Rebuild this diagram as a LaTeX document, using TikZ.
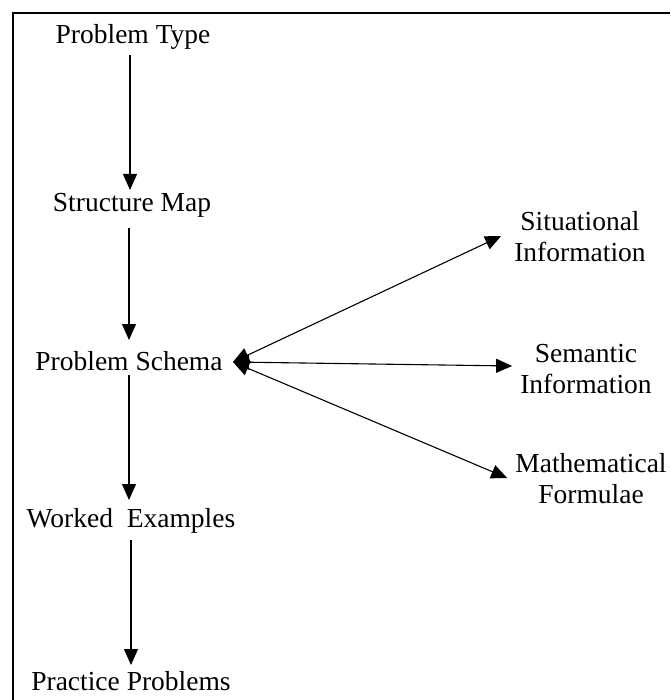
\documentclass[tikz,border=0pt]{standalone}
\usepackage{fontspec}
\setmainfont{Liberation Serif}
\usetikzlibrary{arrows.meta}
\begin{document}
\begin{tikzpicture}[x=1pt,y=-1pt,
  lbl/.style={inner sep=0pt,font=\fontsize{27.5}{31}\selectfont,align=center},
  arr/.style={line width=1.1pt,-{Triangle[width=14pt,length=16pt]}},
  darr/.style={line width=1.1pt,{Triangle[width=15pt,length=16pt]}-{Triangle[width=14pt,length=16pt]}}]
\useasboundingbox (0,0) rectangle (670,700);
\fill[white] (0,0) rectangle (670,700);
\draw[line width=2.2pt] (13,700) -- (13,13) -- (670,13);
\node[lbl,anchor=base] (pt) at (133,44) {Problem Type};
\node[lbl,anchor=base] (sm) at (132,212) {Structure Map};
\node[lbl,anchor=base] (ps) at (129,370) {Problem Schema};
\node[lbl,anchor=base] (we) at (131,527) {Worked\ \ Examples};
\node[lbl,anchor=base] (pp) at (131,690) {Practice Problems};
\node[lbl] (si) at (580,237) {Situational\\Information};
\node[lbl] (se) at (586,369) {Semantic\\Information};
\node[lbl] (mf) at (591,479) {Mathematical\\Formulae};
\coordinate (hub) at (233,362);
\coordinate (x1) at (130,0);
\coordinate (x2) at (129,0);
\coordinate (x3) at (129,0);
\coordinate (x4) at (131,0);
\draw[arr] ([yshift=-11pt]pt.base -| x1) -- ([yshift=22pt]sm.base -| x1);
\draw[arr] ([yshift=-16pt]sm.base -| x2) -- ([yshift=30pt]ps.base -| x2);
\draw[arr] ([yshift=-5pt]ps.base -| x3) -- ([yshift=27pt]we.base -| x3);
\draw[arr] ([yshift=-13pt]we.base -| x4) -- ([yshift=25pt]pp.base -| x4);
\draw[darr] (hub) -- ([xshift=-13pt,yshift=1pt]si.west |- 0,237);
\draw[darr] (hub) -- ([xshift=-8pt]se.west |- 0,366);
\draw[darr] (hub) -- ([xshift=-8pt]mf.west |- 0,478);
\end{tikzpicture}
\end{document}
